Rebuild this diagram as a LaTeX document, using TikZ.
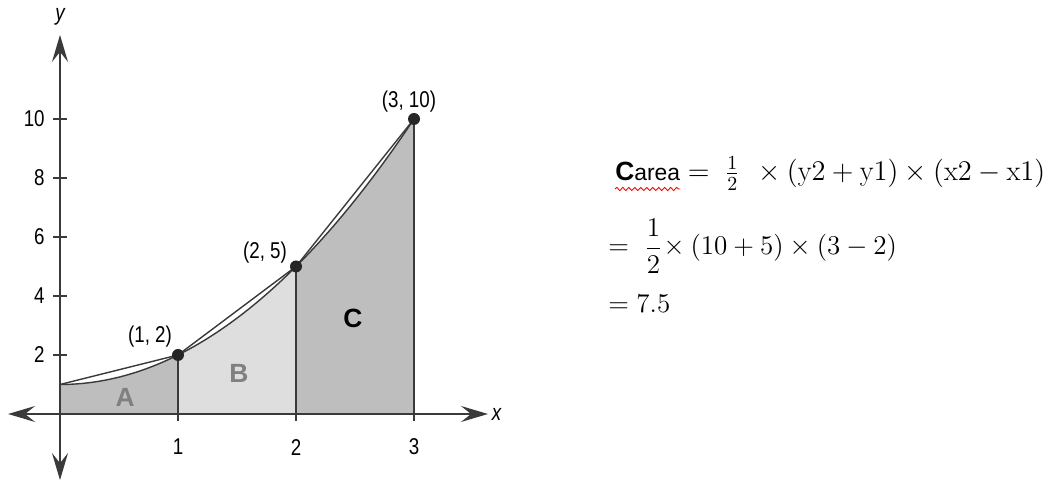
\RequirePackage{fix-cm}
\documentclass[tikz,border=0pt]{standalone}
\usepackage{amsmath}
\usepackage{fontspec}
\usetikzlibrary{arrows.meta,positioning,decorations.pathmorphing}
\newfontfamily\narrowsf[FakeStretch=0.82]{Liberation Sans}
\newfontfamily\arialsf{Liberation Sans}
\definecolor{darkfill}{HTML}{BEBEBF}
\definecolor{lightfill}{HTML}{DEDEDE}
\definecolor{axisgray}{HTML}{3A3A3A}
\definecolor{lettergray}{HTML}{808080}

\begin{document}
\begin{tikzpicture}[
  every node/.style={font=\narrowsf\fontsize{13}{15}\selectfont, inner sep=0pt},
  axis/.style={draw=axisgray, line width=0.9pt,
    {Stealth[length=5.4mm,width=3.2mm,inset=2mm]}-{Stealth[length=5.4mm,width=3.2mm,inset=2mm]}},
  guide/.style={draw=axisgray, line width=0.7pt},
  curve/.style={draw=axisgray, line width=0.8pt},
  region/.style={font=\arialsf\bfseries\fontsize{15}{18}\selectfont},
  eqn/.style={anchor=base west}
]
  \useasboundingbox (-1.2,-1.4) rectangle (19.78,8.28);

  \begin{scope}[x=2.36cm,y=0.59cm]
    % areas under the curve
    \fill[darkfill] (0,0) -- plot[domain=0:1,samples=30] (\x,{\x*\x+1}) -- (1,0) -- cycle;
    \fill[lightfill] (1,0) -- plot[domain=1:2,samples=30] (\x,{\x*\x+1}) -- (2,0) -- cycle;
    \fill[darkfill] (2,0) -- plot[domain=2:3,samples=30] (\x,{\x*\x+1}) -- (3,0) -- cycle;

    \coordinate (p0) at (0,1);
    \coordinate (p1) at (1,2);
    \coordinate (p2) at (2,5);
    \coordinate (p3) at (3,10);

    \draw[curve] plot[domain=0:3,samples=80] (\x,{\x*\x+1});
    \draw[curve] (p0) -- (p1) -- (p2) -- (p3);

    % axes
    \coordinate (xl) at (-0.44,0);
    \coordinate (xr) at (3.627,0);
    \coordinate (yb) at (0,-2.24);
    \coordinate (yt) at (0,12.85);
    \draw[axis] (xl) -- (xr);
    \draw[axis] (yb) -- (yt);
    \node (xlab) at (3.70,-0.03) {\itshape x};
    \node (ylab) at (0,13.46) {\itshape y};

    \foreach \i in {1,2,3} {
      \coordinate (b\i) at (\i,-0.237);
      \draw[guide] (b\i) -- (p\i);
      \node (tx\i) at (\i,-1.12) {\i};
    }
    \foreach \y in {2,4,6,8,10} {
      \coordinate (tl\y) at (-0.0593,\y);
      \coordinate (tr\y) at (0.0593,\y);
      \draw[guide] (tl\y) -- (tr\y);
      \node[anchor=east] (ty\y) at (-0.127,\y) {\y};
    }

    \foreach \i in {1,2,3}
      \fill[black!85] (p\i) circle (0.12cm);
    \node (l1) at ([shift={(-0.56cm,0.36cm)}]p1) {(1, 2)};
    \node (l2) at ([shift={(-0.62cm,0.27cm)}]p2) {(2, 5)};
    \node (l3) at ([shift={(-0.10cm,0.34cm)}]p3) {(3, 10)};

    \node[region, text=lettergray] (ra) at (0.551,0.576) {A};
    \node[region, text=lettergray] (rb) at (1.517,1.39) {B};
    \node[region] (rc) at (2.483,3.25) {C};
  \end{scope}

  % trapezoid area of C
  \node[anchor=base west] (cname) at (11.10,4.66)
    {\arialsf\bfseries\fontsize{15}{18}\selectfont C\mdseries\fontsize{13}{15}\selectfont area};
  \coordinate (sq1) at ([yshift=-0.16cm]cname.base west);
  \coordinate (sq2) at ([yshift=-0.16cm]cname.base east);
  \draw[red, line width=0.5pt, decorate,
    decoration={snake,amplitude=0.9pt,segment length=3.4pt}] (sq1) -- (sq2);
  \node[eqn, font=\fontsize{16.2}{20}\selectfont] (eq1) at ([xshift=0.14cm]cname.base east)
    {$=\;\tfrac{1}{2}\;\,\times(\mathrm{y}2+\mathrm{y}1)\times(\mathrm{x}2-\mathrm{x}1)$};
  \node[eqn, font=\fontsize{15.4}{18}\selectfont] (eq2) at (10.96,3.18)
    {$=\ \dfrac{1}{2}\!\times(10+5)\times(3-2)$};
  \node[eqn, font=\fontsize{15.4}{18}\selectfont] (eq3) at (10.96,2.02) {$=7.5$};
\end{tikzpicture}
\end{document}
